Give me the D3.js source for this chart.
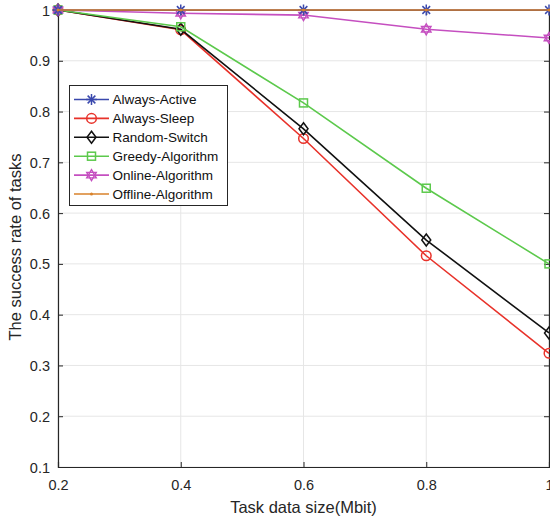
<!DOCTYPE html>
<html><head><meta charset="utf-8">
<script src="https://cdn.jsdelivr.net/npm/d3@7"></script>
<style>body{margin:0;background:#fff}svg{display:block}text{font-family:"Liberation Sans",Arial,Helvetica,sans-serif}</style>
</head><body><svg id="c" width="550" height="520"></svg>
<script>
const xValues = [0.2, 0.4, 0.6, 0.8, 1.0];
const alwaysActive = [1, 1, 1, 1, 1];
const alwaysSleep = [1, 0.961, 0.747, 0.516, 0.324];
const randomSwitch = [1, 0.962, 0.766, 0.547, 0.364];
const greedyAlgorithm = [1, 0.967, 0.817, 0.649, 0.500];
const onlineAlgorithm = [1, 0.9935, 0.990, 0.962, 0.945];
const offlineAlgorithm = [1, 1, 1, 1, 1];
const xTicks = [0.2, 0.4, 0.6, 0.8, 1];
const yTicks = [0.1, 0.2, 0.3, 0.4, 0.5, 0.6, 0.7, 0.8, 0.9, 1];
const seriesNames = ["Always-Active","Always-Sleep","Random-Switch","Greedy-Algorithm","Online-Algorithm","Offline-Algorithm"];

const series = [
  {name: seriesNames[0], values: alwaysActive, color: "#3a48ad", marker: "asterisk"},
  {name: seriesNames[1], values: alwaysSleep, color: "#e8322a", marker: "circle"},
  {name: seriesNames[2], values: randomSwitch, color: "#111111", marker: "diamond"},
  {name: seriesNames[3], values: greedyAlgorithm, color: "#5cc94c", marker: "square"},
  {name: seriesNames[4], values: onlineAlgorithm, color: "#c54fc0", marker: "hexagram"},
  {name: seriesNames[5], values: offlineAlgorithm, color: "#d9822b", marker: "point"}
];

const svg = d3.select("#c");
const L = 58, R = 549, T = 10, B = 467;
const x = d3.scaleLinear().domain([0.2, 1]).range([L, R]);
const y = d3.scaleLinear().domain([0.1, 1]).range([B, T]);

// grid
const g = svg.append("g");
g.selectAll(".vg").data(xTicks).enter().append("line")
  .attr("x1", d => x(d)).attr("x2", d => x(d)).attr("y1", T).attr("y2", B)
  .attr("stroke", "#e6e6e6").attr("stroke-width", 1);
g.selectAll(".hg").data(yTicks).enter().append("line")
  .attr("y1", d => y(d)).attr("y2", d => y(d)).attr("x1", L).attr("x2", R)
  .attr("stroke", "#e6e6e6").attr("stroke-width", 1);

// axes
const fmt = d => d === 1 ? "1" : d3.format(".1f")(d);
const xAxis = d3.axisBottom(x).tickValues(xTicks).tickSize(-5).tickPadding(13).tickFormat(fmt);
const yAxis = d3.axisLeft(y).tickValues(yTicks).tickSize(-5).tickPadding(8).tickFormat(fmt);
const ax = svg.append("g").attr("transform", `translate(0,${B})`).call(xAxis);
const ay = svg.append("g").attr("transform", `translate(${L},0)`).call(yAxis);
const ayr = svg.append("g").attr("transform", `translate(${R},0)`).call(d3.axisRight(y).tickValues(yTicks).tickSize(-5).tickFormat(""));
const axt = svg.append("g").attr("transform", `translate(0,${T})`).call(d3.axisTop(x).tickValues(xTicks).tickSize(-5).tickFormat(""));
[ax, ay, ayr, axt].forEach(a => {
  a.select(".domain").attr("stroke", "#262626").attr("stroke-width", 1.2);
  a.selectAll(".tick line").attr("stroke", "#262626").attr("stroke-width", 1);
  a.selectAll("text").attr("fill", "#262626").style("font-size", "14.5px").style("font-family", "'Liberation Sans',Arial,sans-serif");
});
ay.selectAll("text").attr("dy", "0.35em");

// axis labels
svg.append("text").attr("x", (L + R) / 2).attr("y", 513).attr("text-anchor", "middle")
  .attr("fill", "#262626").style("font-size", "16.5px").text("Task data size(Mbit)");
svg.append("text").attr("transform", `translate(21,247) rotate(-90)`).attr("text-anchor", "middle")
  .attr("fill", "#262626").style("font-size", "16.5px").text("The success rate of tasks");

function drawMarker(sel, type, color, cx, cy) {
  const s = sel.append("g").attr("transform", `translate(${cx},${cy})`);
  if (type === "asterisk") {
    const r = 5.5;
    [[-r,0,r,0],[0,-r,0,r],[-r*0.7,-r*0.7,r*0.7,r*0.7],[-r*0.7,r*0.7,r*0.7,-r*0.7]].forEach(a =>
      s.append("line").attr("x1", a[0]).attr("y1", a[1]).attr("x2", a[2]).attr("y2", a[3]).attr("stroke", color).attr("stroke-width", 1.5));
  } else if (type === "circle") {
    s.append("circle").attr("r", 4.8).attr("fill", "none").attr("stroke", color).attr("stroke-width", 1.5);
  } else if (type === "diamond") {
    s.append("path").attr("d", "M0,-6L4.5,0L0,6L-4.5,0Z").attr("fill", "none").attr("stroke", color).attr("stroke-width", 1.5);
  } else if (type === "square") {
    s.append("rect").attr("x", -4).attr("y", -4).attr("width", 8).attr("height", 8).attr("fill", "none").attr("stroke", color).attr("stroke-width", 1.5);
  } else if (type === "hexagram") {
    const r = 5.5;
    const tri = a => d3.range(3).map(i => { const t = a + i * 2 * Math.PI / 3; return [r * Math.sin(t), -r * Math.cos(t)]; });
    [0, Math.PI].forEach(a => s.append("path").attr("d", "M" + tri(a).join("L") + "Z").attr("fill", "none").attr("stroke", color).attr("stroke-width", 1.4));
  } else if (type === "point") {
    s.append("circle").attr("r", 1.5).attr("fill", color);
  }
}

const line = d3.line().x((d, i) => x(xValues[i])).y(d => y(d));
const order = [1, 2, 3, 4, 0, 5];
order.forEach(k => {
  const sr = series[k];
  svg.append("path").datum(sr.values).attr("d", line).attr("fill", "none").attr("stroke", sr.color).attr("stroke-width", 1.6);
  sr.values.forEach((v, i) => drawMarker(svg, sr.marker, sr.color, x(xValues[i]), y(v)));
});

// legend
const lg = svg.append("g");
lg.append("rect").attr("x", 69.5).attr("y", 85.5).attr("width", 158).attr("height", 120)
  .attr("fill", "#fff").attr("stroke", "#262626").attr("stroke-width", 1);
series.forEach((sr, i) => {
  const yy = 99.5 + i * 18.9;
  lg.append("line").attr("x1", 74).attr("x2", 109).attr("y1", yy).attr("y2", yy).attr("stroke", sr.color).attr("stroke-width", 1.6);
  drawMarker(lg, sr.marker, sr.color, 91.5, yy);
  lg.append("text").attr("x", 112.5).attr("y", yy).attr("dy", "0.36em").attr("fill", "#111")
    .style("font-size", "13.5px").text(sr.name);
});
</script></body></html>
